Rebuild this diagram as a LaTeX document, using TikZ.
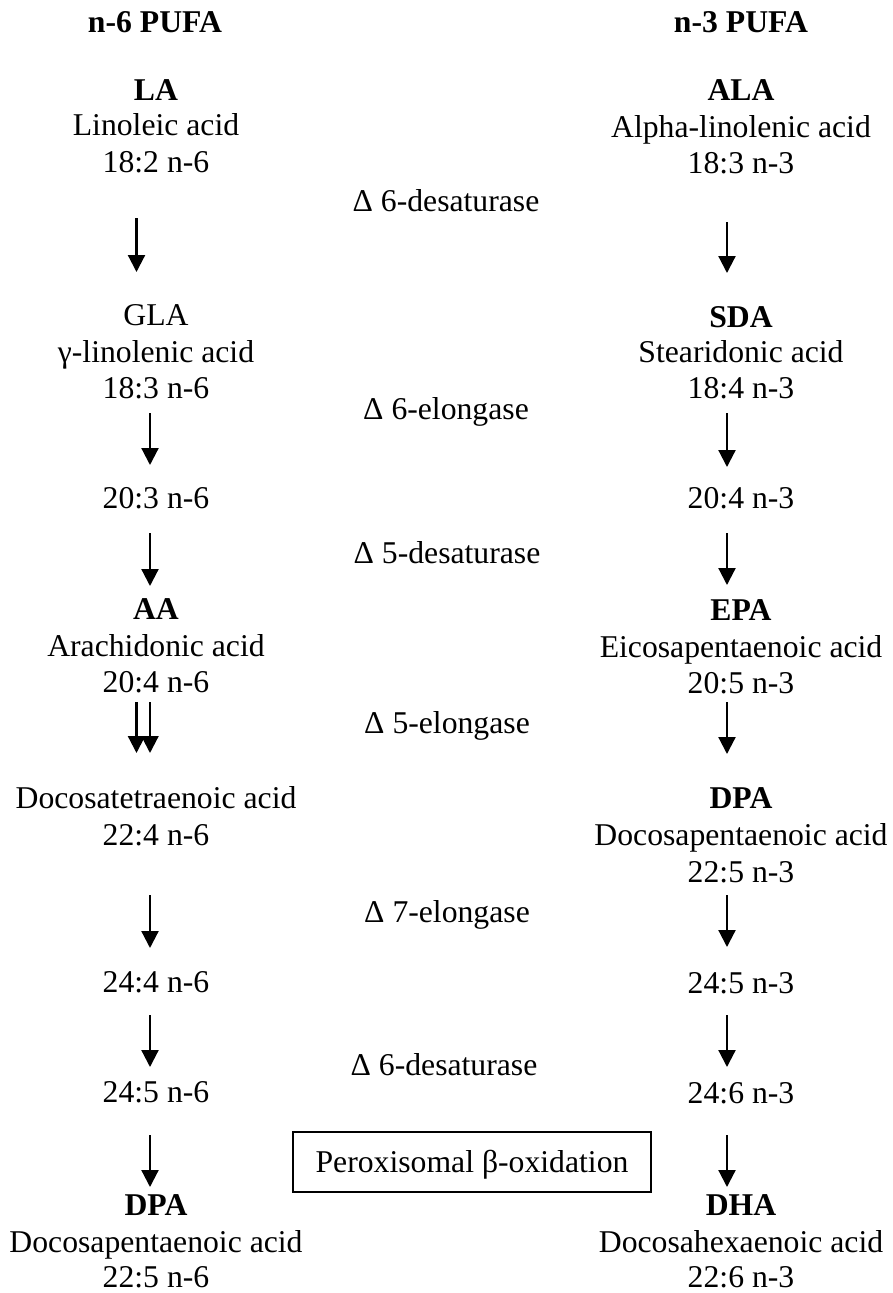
\documentclass[tikz,border=0pt]{standalone}
\usepackage{fontspec}
\setmainfont{Liberation Serif}
\usetikzlibrary{arrows.meta,calc}
\begin{document}
\begin{tikzpicture}[x=1pt,y=-1pt,
  txt/.style={anchor=base, inner sep=0pt, font=\fontsize{31.7}{36}\selectfont},
  bld/.style={anchor=base, inner sep=0pt, font=\fontsize{31.7}{36}\selectfont\bfseries},
  arr/.style={line width=2.2pt, -{Triangle[length=17pt,width=17pt]}},
  enzbox/.style={draw, line width=1.6pt, inner sep=0pt, text height=27pt, text depth=7pt,
    minimum width=358pt, minimum height=60pt, font=\fontsize{31.7}{36}\selectfont}]
\useasboundingbox (0,0) rectangle (893,1293);
\coordinate (LXa) at (136.5,0);
\coordinate (LX) at (150,0);
\coordinate (RX) at (727,0);
% left column
\node[bld] (h6) at (155,32) {n-6 PUFA};
\node[bld] (la1) at (156,100) {LA};
\node[txt] (la2) at (156,135) {Linoleic acid};
\node[txt] (la3) at (156,172) {18:2 n-6};
\node[txt] (gla1) at (156,325) {GLA};
\node[txt] (gla2) at (156,362) {γ-linolenic acid};
\node[txt] (gla3) at (156,398) {18:3 n-6};
\node[txt] (l203) at (156,508) {20:3 n-6};
\node[bld] (aa1) at (156,619) {AA};
\node[txt] (aa2) at (156,656) {Arachidonic acid};
\node[txt] (aa3) at (156,692) {20:4 n-6};
\node[txt] (dta1) at (156,808) {Docosatetraenoic acid};
\node[txt] (dta2) at (156,845) {22:4 n-6};
\node[txt] (l244) at (156,992) {24:4 n-6};
\node[txt] (l245) at (156,1102) {24:5 n-6};
\node[bld] (dpa1) at (156,1215) {DPA};
\node[txt] (dpa2) at (156,1252) {Docosapentaenoic acid};
\node[txt] (dpa3) at (156,1287) {22:5 n-6};
% right column
\node[bld] (h3) at (741,32) {n-3 PUFA};
\node[bld] (ala1) at (741,100) {ALA};
\node[txt] (ala2) at (741,137) {Alpha-linolenic acid};
\node[txt] (ala3) at (741,173) {18:3 n-3};
\node[bld] (sda1) at (741,327) {SDA};
\node[txt] (sda2) at (741,362) {Stearidonic acid};
\node[txt] (sda3) at (741,398) {18:4 n-3};
\node[txt] (r204) at (741,508) {20:4 n-3};
\node[bld] (epa1) at (741,620) {EPA};
\node[txt] (epa2) at (741,657) {Eicosapentaenoic acid};
\node[txt] (epa3) at (741,693) {20:5 n-3};
\node[bld] (dpr1) at (741,808) {DPA};
\node[txt] (dpr2) at (741,845) {Docosapentaenoic acid};
\node[txt] (dpr3) at (741,882) {22:5 n-3};
\node[txt] (r245) at (741,993) {24:5 n-3};
\node[txt] (r246) at (741,1103) {24:6 n-3};
\node[bld] (dha1) at (741,1215) {DHA};
\node[txt] (dha2) at (741,1252) {Docosahexaenoic acid};
\node[txt] (dha3) at (741,1287) {22:6 n-3};
% enzymes
\node[txt] (e1) at (446,211) {Δ 6-desaturase};
\node[txt] (e2) at (446,419) {Δ 6-elongase};
\node[txt] (e3) at (447,563) {Δ 5-desaturase};
\node[txt] (e4) at (447,733) {Δ 5-elongase};
\node[txt] (e5) at (447,922) {Δ 7-elongase};
\node[txt] (e6) at (444,1075) {Δ 6-desaturase};
\node[enzbox] (pbox) at (472,1162) {Peroxisomal β-oxidation};
% left arrows
\draw[arr] ($(la3.base -| LXa)+(0,46)$) -- ($(gla1.base -| LXa)+(0,-53)$);
\draw[arr] ($(gla3.base -| LX)+(0,15)$) -- ($(l203.base -| LX)+(0,-43)$);
\draw[arr] ($(l203.base -| LX)+(0,25)$) -- ($(aa1.base -| LX)+(0,-33)$);
\draw[arr] ($(aa3.base -| LXa)+(0,10)$) -- ($(dta1.base -| LXa)+(0,-55)$);
\draw[arr] ($(aa3.base -| LX)+(0,10)$) -- ($(dta1.base -| LX)+(0,-55)$);
\draw[arr] ($(dta2.base -| LX)+(0,50)$) -- ($(l244.base -| LX)+(0,-44)$);
\draw[arr] ($(l244.base -| LX)+(0,23)$) -- ($(l245.base -| LX)+(0,-35)$);
\draw[arr] ($(l245.base -| LX)+(0,33)$) -- ($(dpa1.base -| LX)+(0,-28)$);
% right arrows
\draw[arr] ($(ala3.base -| RX)+(0,49)$) -- ($(sda1.base -| RX)+(0,-54)$);
\draw[arr] ($(sda3.base -| RX)+(0,15)$) -- ($(r204.base -| RX)+(0,-41)$);
\draw[arr] ($(r204.base -| RX)+(0,25)$) -- ($(epa1.base -| RX)+(0,-35)$);
\draw[arr] ($(epa3.base -| RX)+(0,9)$) -- ($(dpr1.base -| RX)+(0,-54)$);
\draw[arr] ($(dpr3.base -| RX)+(0,13)$) -- ($(r245.base -| RX)+(0,-46)$);
\draw[arr] ($(r245.base -| RX)+(0,22)$) -- ($(r246.base -| RX)+(0,-36)$);
\draw[arr] ($(r246.base -| RX)+(0,32)$) -- ($(dha1.base -| RX)+(0,-28)$);
\end{tikzpicture}
\end{document}
